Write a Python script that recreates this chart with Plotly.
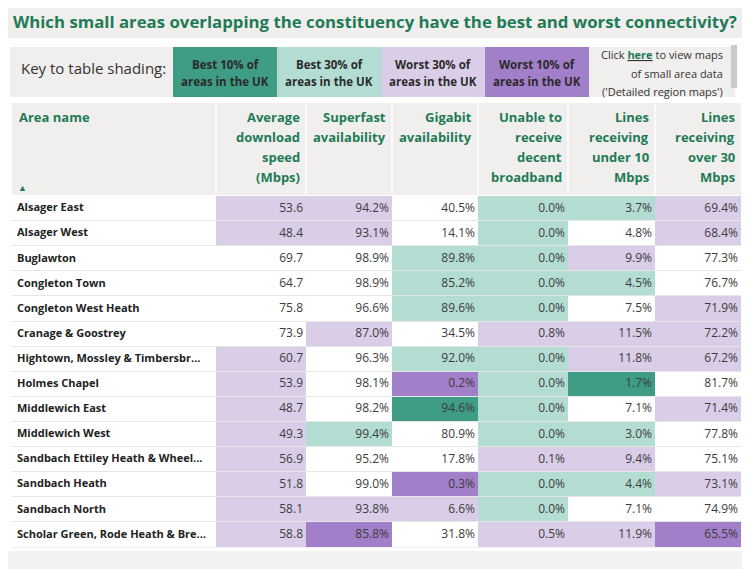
import plotly.graph_objects as go

# ---------------- data ----------------
areas = ["Alsager East", "Alsager West", "Buglawton", "Congleton Town",
         "Congleton West Heath", "Cranage & Goostrey",
         "Hightown, Mossley & Timbersbr...", "Holmes Chapel", "Middlewich East",
         "Middlewich West", "Sandbach Ettiley Heath & Wheel...", "Sandbach Heath",
         "Sandbach North", "Scholar Green, Rode Heath & Bre..."]

avg_speed = [53.6, 48.4, 69.7, 64.7, 75.8, 73.9, 60.7, 53.9, 48.7, 49.3, 56.9, 51.8, 58.1, 58.8]
superfast = [94.2, 93.1, 98.9, 98.9, 96.6, 87.0, 96.3, 98.1, 98.2, 99.4, 95.2, 99.0, 93.8, 85.8]
gigabit = [40.5, 14.1, 89.8, 85.2, 89.6, 34.5, 92.0, 0.2, 94.6, 80.9, 17.8, 0.3, 6.6, 31.8]
unable = [0.0, 0.0, 0.0, 0.0, 0.0, 0.8, 0.0, 0.0, 0.0, 0.0, 0.1, 0.0, 0.0, 0.5]
under10 = [3.7, 4.8, 9.9, 4.5, 7.5, 11.5, 11.8, 1.7, 7.1, 3.0, 9.4, 4.4, 7.1, 11.9]
over30 = [69.4, 68.4, 77.3, 76.7, 71.9, 72.2, 67.2, 81.7, 71.4, 77.8, 75.1, 73.1, 74.9, 65.5]

# shading class: 0 none, 1 best 10%, 2 best 30%, 3 worst 30%, 4 worst 10%
avg_class = [3, 3, 0, 0, 0, 0, 3, 3, 3, 3, 3, 3, 3, 3]
superfast_class = [3, 3, 0, 0, 0, 3, 0, 0, 0, 2, 0, 0, 3, 4]
gigabit_class = [0, 0, 2, 2, 2, 0, 2, 4, 1, 0, 0, 4, 3, 0]
unable_class = [2, 2, 2, 2, 2, 3, 2, 2, 2, 2, 3, 2, 2, 3]
under10_class = [2, 0, 3, 2, 0, 3, 3, 1, 0, 2, 3, 2, 0, 3]
over30_class = [3, 3, 0, 0, 3, 3, 3, 0, 3, 0, 0, 3, 0, 4]

headers = ["Area name", "Average<br>download<br>speed<br>(Mbps)", "Superfast<br>availability",
           "Gigabit<br>availability", "Unable to<br>receive<br>decent<br>broadband",
           "Lines<br>receiving<br>under 10<br>Mbps", "Lines<br>receiving<br>over 30<br>Mbps"]

key_title = "Key to table shading:"
key_labels = ["Best 10% of<br>areas in the UK", "Best 30% of<br>areas in the UK",
              "Worst 30% of<br>areas in the UK", "Worst 10% of<br>areas in the UK"]

title = "Which small areas overlapping the constituency have the best and worst connectivity?"

# ---------------- styling / layout constants ----------------
OFF = 8                      # browser body margin
W, H = 750 - OFF, 569 - OFF  # figure size
FONT = "Open Sans"
GREEN = "#1e7b55"
GREY = "#f0efee"
class_colors = ["#ffffff", "#3f9c85", "#b3ddd3", "#dacde8", "#a27fc9"]

col_edges = [12, 216, 306, 392, 478, 568, 655, 741]
BODY_TOP, BODY_BOT = 196, 547.5
RH = (BODY_BOT - BODY_TOP) / len(areas)


def px(x):
    return (x - OFF) / W


def py(y):
    return 1 - (y - OFF) / H


def yv(p):  # pixel -> row-axis value
    return (p - BODY_TOP) / RH - 0.5


def fmt_pct(vals):
    return [f"{v:.1f}%" for v in vals]


value_cols = [[f"{v:.1f}" for v in avg_speed], fmt_pct(superfast), fmt_pct(gigabit),
              fmt_pct(unable), fmt_pct(under10), fmt_pct(over30)]
class_cols = [[0] * len(areas), avg_class, superfast_class, gigabit_class,
              unable_class, under10_class, over30_class]
z = [[class_cols[c][r] for c in range(len(class_cols))] for r in range(len(areas))]

n = len(class_colors) - 1
cscale = []
for i, c in enumerate(class_colors):
    lo = max(0, (i - 0.5) / n)
    hi = min(1, (i + 0.5) / n)
    cscale += [[lo, c], [hi, c]]

fig = go.Figure()
fig.add_trace(go.Heatmap(
    z=z, x=col_edges, y=areas, zmin=0, zmax=n, colorscale=cscale,
    showscale=False, ygap=1, hoverinfo="skip"))

fig.add_trace(go.Scatter(
    x=[17] * len(areas), y=areas, mode="text", text=["<b>" + a + "</b>" for a in areas],
    textposition="middle right", hoverinfo="skip",
    textfont=dict(family=FONT, size=11, color="#222222")))

for ci, vals in enumerate(value_cols):
    right = col_edges[ci + 2]
    fig.add_trace(go.Scatter(
        x=[right - 3] * len(areas), y=areas, mode="text", text=vals,
        textposition="middle left", hoverinfo="skip",
        textfont=dict(family=FONT, size=12, color="#3c3c3c")))

shapes = [
    # title band
    dict(type="rect", xref="paper", yref="paper", x0=px(3), x1=px(748), y0=py(38), y1=py(3),
         fillcolor=GREY, line=dict(width=0), layer="below"),
    # key band
    dict(type="rect", xref="paper", yref="paper", x0=px(10), x1=px(735), y0=py(97), y1=py(47),
         fillcolor=GREY, line=dict(width=0), layer="below"),
    # header band
    dict(type="rect", xref="paper", yref="paper", x0=px(12), x1=px(741), y0=py(195), y1=py(103),
         fillcolor=GREY, line=dict(width=0), layer="below"),
    # body row separators background
    dict(type="rect", xref="paper", yref="paper", x0=px(12), x1=px(741), y0=py(BODY_BOT),
         y1=py(BODY_TOP), fillcolor="#e6e6e6", line=dict(width=0), layer="below"),
    # bottom band
    dict(type="rect", xref="paper", yref="paper", x0=0, x1=1, y0=0, y1=py(551),
         fillcolor="#f3f2f1", line=dict(width=0), layer="below"),
    # scrollbar
    dict(type="rect", xref="paper", yref="paper", x0=px(731), x1=px(737), y0=py(88), y1=py(45),
         fillcolor="#c9c9c9", line=dict(width=0)),
]
for e in col_edges[1:-1]:
    shapes.append(dict(type="line", xref="paper", yref="paper", x0=px(e), x1=px(e),
                       y0=py(195), y1=py(103), line=dict(color="#ffffff", width=1.5)))

annotations = [
    dict(text="<b>" + title + "</b>", xref="paper", yref="paper", x=px(375), y=py(21),
         xanchor="center", yanchor="middle", showarrow=False,
         font=dict(family=FONT, size=16.8, color=GREEN)),
    dict(text=key_title, xref="paper", yref="paper", x=px(19), y=py(68),
         xanchor="left", yanchor="middle", showarrow=False,
         font=dict(family=FONT, size=15, color="#333333")),
    dict(text="▲", xref="paper", yref="paper", x=px(22), y=py(187),
         xanchor="center", yanchor="middle", showarrow=False,
         font=dict(family=FONT, size=9, color=GREEN)),
]

click_lines = ["Click <b><u><span style='color:" + GREEN + "'>here</span></u></b> to view maps",
               "of small area data", "('Detailed region maps')"]
for i, t in enumerate(click_lines):
    annotations.append(dict(text=t, xref="paper", yref="paper", x=px(725), y=py(55 + 18.5 * i),
                            xanchor="right", yanchor="middle", showarrow=False,
                            font=dict(family=FONT, size=11, color="#333333")))

# header lines
for ci, h in enumerate(headers):
    parts = h.split("<br>")
    for li, t in enumerate(parts):
        if ci == 0:
            x, anchor = col_edges[0] + 5, "left"
        else:
            x, anchor = col_edges[ci + 1] - 4, "right"
        annotations.append(dict(text="<b>" + t + "</b>", xref="paper", yref="paper",
                                x=px(x), y=py(117 + 20 * li), xanchor=anchor, yanchor="middle",
                                showarrow=False, font=dict(family=FONT, size=13, color=GREEN)))

# key boxes
KEY_X0, KEY_W = 173, 104
for i, lab in enumerate(key_labels):
    x0 = KEY_X0 + KEY_W * i
    shapes.append(dict(type="rect", xref="paper", yref="paper", x0=px(x0), x1=px(x0 + KEY_W),
                       y0=py(97), y1=py(47), fillcolor=class_colors[i + 1], line=dict(width=0)))
    for li, t in enumerate(lab.split("<br>")):
        annotations.append(dict(text="<b>" + t + "</b>", xref="paper", yref="paper",
                                x=px(x0 + KEY_W / 2), y=py(64 + 18 * li), xanchor="center",
                                yanchor="middle", showarrow=False,
                                font=dict(family=FONT, size=11.5, color="#2a2a2a")))

fig.update_layout(
    width=W, height=H, margin=dict(l=0, r=0, t=0, b=0),
    paper_bgcolor="#ffffff", plot_bgcolor="rgba(0,0,0,0)",
    shapes=shapes, annotations=annotations, showlegend=False,
    xaxis=dict(range=[OFF, 750], visible=False, fixedrange=True),
    yaxis=dict(type="category", range=[yv(569), yv(OFF)], visible=False, fixedrange=True),
)

fig.write_html("out.html")
